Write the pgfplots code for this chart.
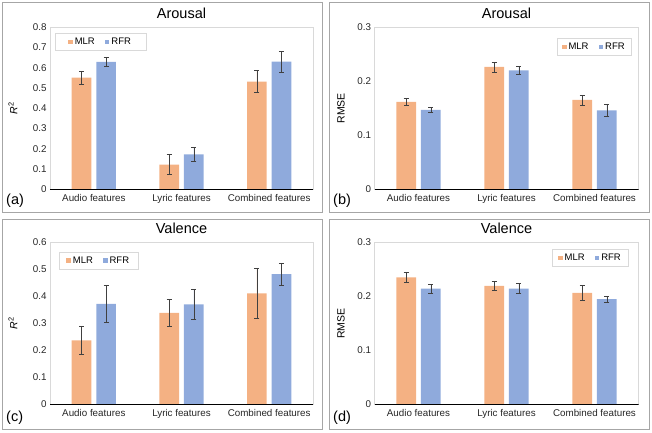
\documentclass[border=0pt]{standalone}
\usepackage{fontspec}
\setmainfont{Liberation Sans}
\usepackage{pgfplots}
\pgfplotsset{compat=1.18}
\definecolor{mlr}{HTML}{F4B183}
\definecolor{rfr}{HTML}{8FAADC}
\definecolor{errc}{HTML}{404040}
\definecolor{framec}{HTML}{A6A6A6}
\definecolor{plotbox}{HTML}{D9D9D9}
\definecolor{baseline}{HTML}{BFBFBF}
\pgfplotsset{
  panel/.style={
    scale only axis, width=264bp, height=162bp, anchor=south west,
    ybar=4.9bp, bar width=19.7bp,
    xmin=-0.5, xmax=2.5, xtick={0,1,2},
    xticklabels={Audio features, Lyric features, Combined features},
    ymin=0,
    major tick length=0pt,
    axis line style={plotbox},
    tick label style={font=\fontsize{9.8bp}{11bp}\selectfont, text=black!85},
    xticklabel style={yshift=-1.5bp},
    /pgf/number format/assume math mode=true,
    title style={font=\fontsize{14.5bp}{17bp}\selectfont, at={(axis description cs:0.5,1)}, anchor=base, yshift=3bp},
    ylabel style={font=\fontsize{10.5bp}{12bp}\selectfont, anchor=center},
    legend style={draw=plotbox, font=\fontsize{9.5bp}{11bp}\selectfont, legend columns=2,
      /tikz/every even column/.append style={column sep=8bp}, inner ysep=2.5bp},
    legend image code/.code={\fill[##1] (0bp,-2.3bp) rectangle (4.6bp,2.3bp);},
    error bars/y dir=both, error bars/y explicit,
    error bars/error bar style={draw=errc, line width=0.6bp},
    error bars/error mark=|,
    error bars/error mark options={draw=errc, line width=0.6bp, mark size=2.5bp},
  },
}
\begin{document}
\begin{tikzpicture}[x=1bp,y=1bp]
\useasboundingbox (0,0) rectangle (652,433);
% panel frames
\draw[framec, line width=0.8bp] (2.5,220.5) rectangle (322.5,430.5);
\draw[framec, line width=0.8bp] (329.5,220.5) rectangle (649,430.5);
\draw[framec, line width=0.8bp] (2.5,3.5) rectangle (322.5,213.5);
\draw[framec, line width=0.8bp] (329.5,3.5) rectangle (649,213.5);

% (a)
\begin{axis}[panel, at={(50bp,243.7bp)}, width=263bp,
  ymax=0.8, ytick={0,0.1,0.2,0.3,0.4,0.5,0.6,0.7,0.8},
  title={Arousal},
  ylabel={\textit{R}\textsuperscript{2}},
  ylabel style={at={(axis description cs:-0.141,0.5)}},
  legend style={at={(axis description cs:0.019,0.963)}, anchor=north west, inner xsep=13bp}]
\addplot[fill=mlr, draw=none] coordinates {(0,0.551) +- (0,0.034) (1,0.122) +- (0,0.050) (2,0.532) +- (0,0.055)};
\addplot[fill=rfr, draw=none] coordinates {(0,0.629) +- (0,0.024) (1,0.173) +- (0,0.036) (2,0.630) +- (0,0.051)};
\legend{MLR, RFR}
\draw[baseline, line width=0.8bp] (rel axis cs:0,0) -- (rel axis cs:1,0);
\end{axis}
\node[anchor=base west, font=\fontsize{14.5bp}{17bp}\selectfont, inner sep=0] at (6,228) {(a)};

% (b)
\begin{axis}[panel, at={(374.5bp,243.7bp)},
  ymax=0.3, ytick={0,0.1,0.2,0.3},
  title={Arousal},
  ylabel={RMSE},
  ylabel style={at={(axis description cs:-0.127,0.5)}},
  legend style={at={(axis description cs:0.973,0.932)}, anchor=north east, inner xsep=4.5bp}]
\addplot[fill=mlr, draw=none] coordinates {(0,0.1617) +- (0,0.0065) (1,0.2265) +- (0,0.0090) (2,0.1654) +- (0,0.0092)};
\addplot[fill=rfr, draw=none] coordinates {(0,0.1470) +- (0,0.0045) (1,0.2204) +- (0,0.0075) (2,0.1463) +- (0,0.0105)};
\legend{MLR, RFR}
\draw[baseline, line width=0.8bp] (rel axis cs:0,0) -- (rel axis cs:1,0);
\end{axis}
\node[anchor=base west, font=\fontsize{14.5bp}{17bp}\selectfont, inner sep=0] at (333,228) {(b)};

% (c)
\begin{axis}[panel, at={(50bp,28.7bp)}, width=263bp, height=161.7bp,
  ymax=0.6, ytick={0,0.1,0.2,0.3,0.4,0.5,0.6},
  title={Valence},
  ylabel={\textit{R}\textsuperscript{2}},
  ylabel style={at={(axis description cs:-0.141,0.5)}},
  legend style={at={(axis description cs:0.033,0.942)}, anchor=north west, inner xsep=7.5bp}]
\addplot[fill=mlr, draw=none] coordinates {(0,0.2376) +- (0,0.053) (1,0.339) +- (0,0.050) (2,0.412) +- (0,0.093)};
\addplot[fill=rfr, draw=none] coordinates {(0,0.3725) +- (0,0.070) (1,0.371) +- (0,0.054) (2,0.483) +- (0,0.042)};
\legend{MLR, RFR}
\draw[baseline, line width=0.8bp] (rel axis cs:0,0) -- (rel axis cs:1,0);
\end{axis}
\node[anchor=base west, font=\fontsize{14.5bp}{17bp}\selectfont, inner sep=0] at (6,11) {(c)};

% (d)
\begin{axis}[panel, at={(374.5bp,28.7bp)}, height=161.7bp,
  ymax=0.3, ytick={0,0.1,0.2,0.3},
  title={Valence},
  ylabel={RMSE},
  ylabel style={at={(axis description cs:-0.127,0.5)}},
  legend style={at={(axis description cs:0.962,0.959)}, anchor=north east, inner xsep=5.5bp}]
\addplot[fill=mlr, draw=none] coordinates {(0,0.2356) +- (0,0.0093) (1,0.2195) +- (0,0.0087) (2,0.2066) +- (0,0.0143)};
\addplot[fill=rfr, draw=none] coordinates {(0,0.2146) +- (0,0.0083) (1,0.2146) +- (0,0.0090) (2,0.1950) +- (0,0.0053)};
\legend{MLR, RFR}
\draw[baseline, line width=0.8bp] (rel axis cs:0,0) -- (rel axis cs:1,0);
\end{axis}
\node[anchor=base west, font=\fontsize{14.5bp}{17bp}\selectfont, inner sep=0] at (333,11) {(d)};
\end{tikzpicture}
\end{document}
